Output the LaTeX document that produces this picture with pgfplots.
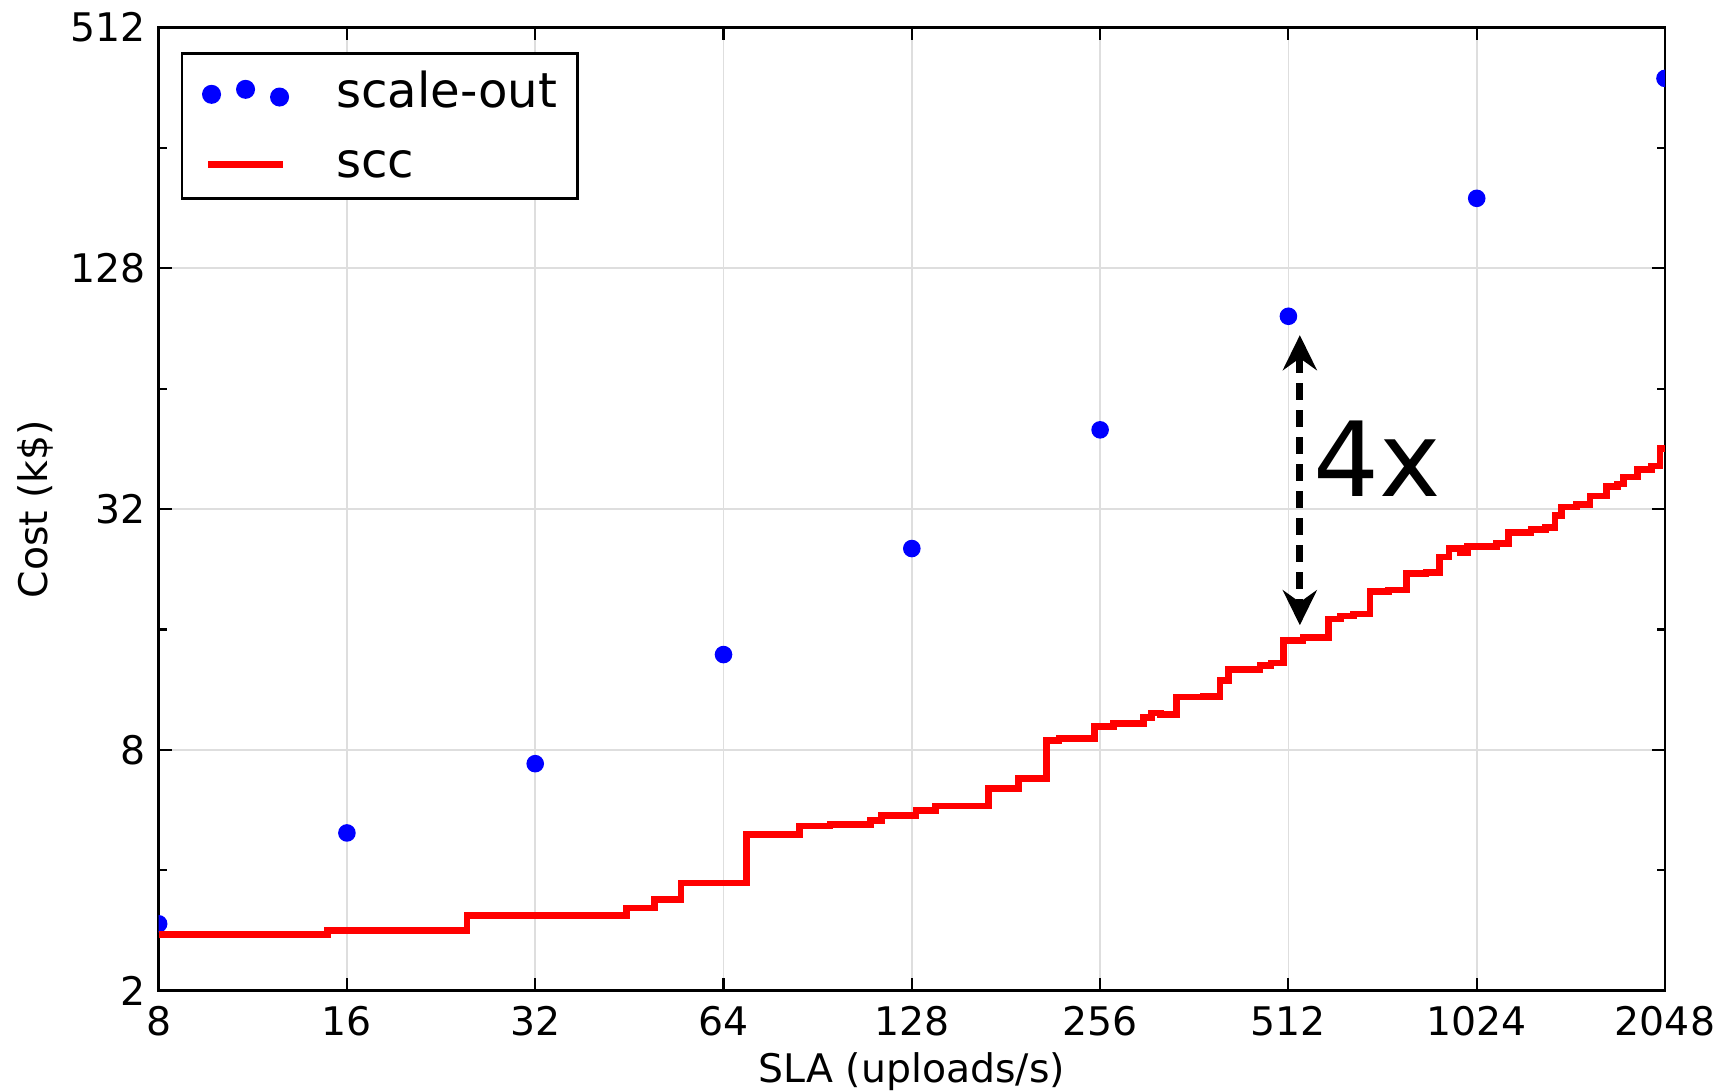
\documentclass[border=0pt]{standalone}
\usepackage{fontspec}
\setmainfont{DejaVu Sans}
\usepackage{pgfplots}
\pgfplotsset{compat=1.18}
\usetikzlibrary{arrows.meta}

\begin{document}
\begin{tikzpicture}
\begin{axis}[
    scale only axis,
    width=150.6mm,
    height=96.3mm,
    xmode=log, ymode=log,
    log basis x=2, log basis y=2,
    xmin=8, xmax=2048,
    ymin=2, ymax=512,
    xtick={8,16,32,64,128,256,512,1024,2048},
    xticklabels={8,16,32,64,128,256,512,1024,2048},
    ytick={2,8,32,128,512},
    yticklabels={2,8,32,128,512},
    extra y ticks={4,16,64,256},
    extra y tick labels={},
    extra y tick style={grid=none, major tick length=0.8mm},
    grid=major,
    major grid style={black!13, line width=0.5pt},
    axis line style={line width=0.8pt},
    tick style={black, line width=0.6pt},
    major tick length=1.3mm,
    tick label style={font=\fontsize{11.2}{13}\selectfont},
    xticklabel style={inner sep=0pt, yshift=-1.5mm},
    yticklabel style={inner sep=0pt, xshift=-1.2mm},
    xlabel={SLA (uploads/s)},
    ylabel={Cost (k\$)},
    label style={font=\fontsize{11.2}{13}\selectfont},
    xlabel style={at={([yshift=-9.15mm]axis description cs:0.5,0)}, anchor=base},
    ylabel style={at={([xshift=-12.3mm]axis description cs:0,0.5)}, anchor=center},
    clip marker paths=true,
    legend cell align=left,
    legend style={
        at={([xshift=2.2mm,yshift=-2.5mm]axis description cs:0,1)},
        anchor=north west,
        draw=black, line width=0.8pt,
        font=\fontsize{13.7}{16}\selectfont,
        inner xsep=2.0mm, inner ysep=1.9mm,
        row sep=9.5pt,
        nodes={inner sep=0pt, text height=9.8pt, text depth=0.6pt},
        /tikz/every odd column/.append style={column sep=4.7mm},
    },
]
% scale-out (blue dots)
\addplot[only marks, mark=*, mark size=2.3pt, blue, mark options={fill=blue, draw=blue},
    legend image code/.code={
        \fill[blue] (0mm,-0.9pt) circle (2.3pt);
        \fill[blue] (3.4mm,-0.9pt+0.5mm) circle (2.3pt);
        \fill[blue] (6.8mm,-0.9pt-0.27mm) circle (2.3pt);
    }] coordinates {
    (8, 2.94)
    (16, 4.96)
    (32, 7.39)
    (64, 13.85)
    (128, 25.5)
    (256, 50.5)
    (512, 97.1)
    (1024, 191.5)
    (2048, 382)
};
\addlegendentry{scale-out}
% scc (red step line)
\addplot[const plot, red, line width=1.9pt,
    legend image code/.code={
        \draw[red, line width=1.9pt] (-0.33mm,-0.9pt) -- (7.17mm,-0.9pt);
    }] coordinates {
    (8, 2.76)
    (14.9, 2.83)
    (24.9, 3.08)
    (44.8, 3.22)
    (49.7, 3.38)
    (54.7, 3.72)
    (69.7, 4.92)
    (84.6, 5.16)
    (94.7, 5.2)
    (109.8, 5.33)
    (114.5, 5.49)
    (130, 5.65)
    (139.7, 5.79)
    (169.6, 6.4)
    (189.5, 6.78)
    (210, 8.45)
    (220, 8.55)
    (250.6, 9.16)
    (268.8, 9.31)
    (300, 9.63)
    (309.6, 9.89)
    (320, 9.8)
    (339.4, 10.85)
    (375, 10.9)
    (398, 11.94)
    (410.5, 12.7)
    (461, 13.0)
    (480, 13.2)
    (502.5, 15.04)
    (540, 15.3)
    (593, 17.0)
    (620, 17.3)
    (650, 17.5)
    (691, 19.9)
    (740, 20.1)
    (791, 22.1)
    (850, 22.2)
    (894, 24.3)
    (925, 25.5)
    (965, 24.9)
    (990, 25.8)
    (1102, 26.3)
    (1150, 28.0)
    (1250, 28.5)
    (1320, 28.8)
    (1366, 30.9)
    (1400, 32.4)
    (1480, 32.8)
    (1554, 34.5)
    (1650, 36.5)
    (1720, 37.0)
    (1757, 38.5)
    (1850, 40.2)
    (1950, 41.0)
    (2011, 45.4)
    (2048, 45.4)
};
\addlegendentry{scc}
% annotation
\draw[line width=2pt, dash pattern=on 1.7mm off 1mm,
    {Stealth[length=3.5mm,width=3.4mm,inset=1.2mm]}-{Stealth[length=3.5mm,width=3.4mm,inset=1.2mm]}]
    (axis cs:534,87.1) -- (axis cs:534,16.4);
\node[font=\fontsize{29.5}{36}\selectfont, inner sep=0pt] at (axis cs:710,42.7) {4x};
\coordinate (sw) at (rel axis cs:0,0);
\coordinate (ne) at (rel axis cs:1,1);
\end{axis}
\pgfresetboundingbox
\path ([xshift=-15.86mm,yshift=-9.98mm]sw) rectangle ([xshift=6.2mm,yshift=2.75mm]ne);
\end{tikzpicture}
\end{document}
